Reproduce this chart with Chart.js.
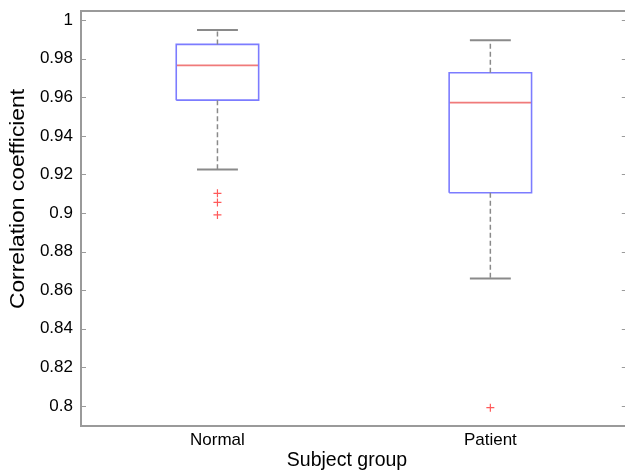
<!DOCTYPE html>
<html>
<head>
<meta charset="utf-8">
<script src="https://cdn.jsdelivr.net/npm/chart.js@4.4.0/dist/chart.umd.min.js"></script>
<style>
  body { margin: 0; background: #fff; }
  #wrap { width: 625px; height: 476px; overflow: hidden; position: relative; }
  canvas { display: block; }
</style>
</head>
<body>
<div id="wrap"><canvas id="chart" width="632" height="476" style="width:632px;height:476px"></canvas></div>
<script>
// box plot summary values
const groups = ['Normal', 'Patient'];
const upperWhisker = [0.9948, 0.9896];
const q3 = [0.9874, 0.9727];
const median = [0.9765, 0.9572];
const q1 = [0.9585, 0.9105];
const lowerWhisker = [0.9226, 0.8660];
const outliers = [[0.9102, 0.9055, 0.8990], [0.7991]];
const yTicks = [0.8, 0.82, 0.84, 0.86, 0.88, 0.9, 0.92, 0.94, 0.96, 0.98, 1];
const xTitle = 'Subject group';
const yTitle = 'Correlation coefficient';

const FONT = '"Liberation Sans", Arial, Helvetica, sans-serif';
const BOX_HALF = 0.151;
const CAP_HALF = 0.075;

// build the line segments for each part of the box plot
const gap = (x) => ({ x: x, y: null });
const boxPts = [], medPts = [], whiskPts = [], capPts = [], outPts = [];
groups.forEach((g, i) => {
  const x = i + 1;
  boxPts.push({ x: x - BOX_HALF, y: q1[i] }, { x: x - BOX_HALF, y: q3[i] },
              { x: x + BOX_HALF, y: q3[i] }, { x: x + BOX_HALF, y: q1[i] },
              { x: x - BOX_HALF, y: q1[i] }, gap(x));
  medPts.push({ x: x - BOX_HALF, y: median[i] }, { x: x + BOX_HALF, y: median[i] }, gap(x));
  whiskPts.push({ x: x, y: q3[i] }, { x: x, y: upperWhisker[i] }, gap(x),
                { x: x, y: q1[i] }, { x: x, y: lowerWhisker[i] }, gap(x));
  capPts.push({ x: x - CAP_HALF, y: upperWhisker[i] }, { x: x + CAP_HALF, y: upperWhisker[i] }, gap(x),
              { x: x - CAP_HALF, y: lowerWhisker[i] }, { x: x + CAP_HALF, y: lowerWhisker[i] }, gap(x));
  outliers[i].forEach(v => outPts.push({ x: x, y: v }));
});

const lineSet = (data, color, width, dash) => ({
  data: data,
  showLine: true,
  spanGaps: false,
  borderColor: color,
  borderWidth: width,
  borderDash: dash || [],
  pointRadius: 0,
  fill: false
});

// MATLAB style frame: top/right edges, inward ticks and the axis titles
const framePlugin = {
  id: 'frame',
  afterDraw(chart) {
    const { ctx, chartArea: a, scales } = chart;
    ctx.save();
    ctx.strokeStyle = '#9a9a9a';
    ctx.lineWidth = 2;
    ctx.beginPath();
    ctx.moveTo(a.left, a.top);
    ctx.lineTo(a.right, a.top);
    ctx.lineTo(a.right, a.bottom);
    ctx.stroke();
    ctx.lineWidth = 1;
    scales.y.ticks.forEach(t => {
      const py = Math.round(scales.y.getPixelForValue(t.value)) + 0.5;
      ctx.beginPath();
      ctx.moveTo(a.left, py);
      ctx.lineTo(a.left + 5, py);
      ctx.moveTo(a.right - 5, py);
      ctx.lineTo(a.right, py);
      ctx.stroke();
    });

    ctx.fillStyle = '#000';
    ctx.textAlign = 'center';
    ctx.textBaseline = 'middle';
    ctx.font = '19.5px ' + FONT;
    ctx.fillText(xTitle, 347, 461);

    ctx.translate(18, 199);
    ctx.rotate(-Math.PI / 2);
    ctx.scale(1.14, 1);
    ctx.font = '20px ' + FONT;
    ctx.fillText(yTitle, 0, 0);
    ctx.restore();
  }
};

new Chart(document.getElementById('chart'), {
  type: 'scatter',
  data: {
    datasets: [
      lineSet(whiskPts, '#8a8a8a', 1.5, [5, 3]),
      lineSet(capPts, '#8a8a8a', 2),
      lineSet(boxPts, '#7c7cff', 1.6),
      lineSet(medPts, '#f07a7a', 1.6),
      {
        data: outPts,
        pointStyle: 'cross',
        pointRadius: 4,
        borderColor: '#ff5a5a',
        borderWidth: 1.2,
        showLine: false
      }
    ]
  },
  options: {
    responsive: false,
    devicePixelRatio: 1,
    animation: false,
    layout: { padding: { top: 11, right: 4, left: 0, bottom: 0 } },
    plugins: { legend: { display: false }, tooltip: { enabled: false } },
    scales: {
      x: {
        type: 'linear',
        min: 0.5,
        max: 2.5,
        afterFit: (s) => { s.height = 50; s.paddingLeft = 0; s.paddingRight = 0; },
        afterBuildTicks: (s) => { s.ticks = groups.map((g, i) => ({ value: i + 1 })); },
        ticks: {
          callback: (v) => groups[v - 1],
          color: '#000',
          padding: 4,
          maxRotation: 0,
          autoSkip: false,
          font: { family: FONT, size: 17 }
        },
        grid: { display: false, drawTicks: false },
        border: { display: true, color: '#9a9a9a', width: 2 }
      },
      y: {
        min: 0.7896,
        max: 1.0047,
        afterFit: (s) => { s.width = 81; s.paddingTop = 0; s.paddingBottom = 0; },
        afterBuildTicks: (s) => { s.ticks = yTicks.map(v => ({ value: v })); },
        ticks: {
          callback: (v) => String(Number(v.toFixed(2))),
          color: '#000',
          padding: 8,
          font: { family: FONT, size: 17 }
        },
        grid: { display: false, drawTicks: false },
        border: { display: true, color: '#9a9a9a', width: 2 }
      }
    }
  },
  plugins: [framePlugin]
});
</script>
</body>
</html>
